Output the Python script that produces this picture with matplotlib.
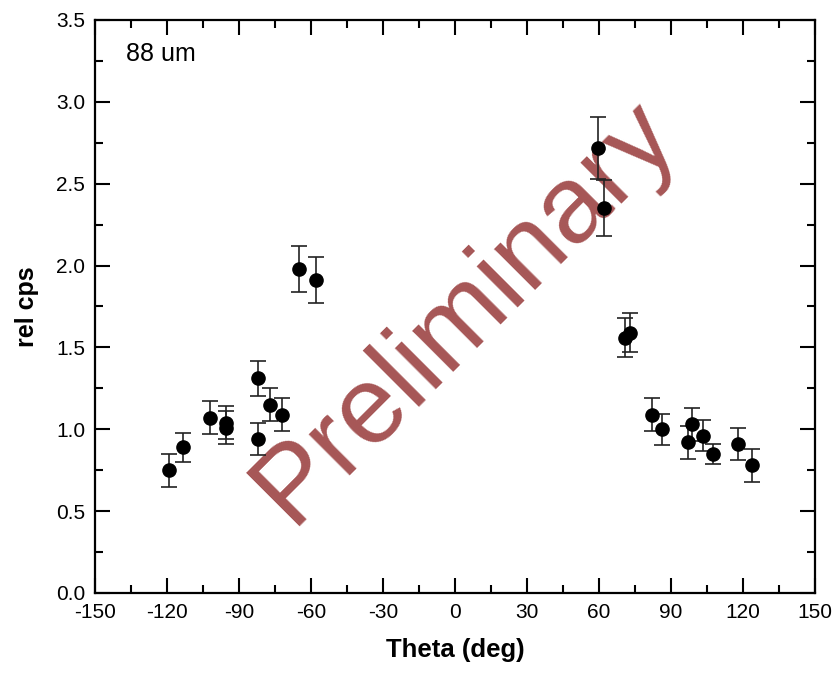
import matplotlib.pyplot as plt
from matplotlib.ticker import MultipleLocator

plt.rcParams['font.family'] = ['Liberation Sans', 'DejaVu Sans']

# angle (deg), relative count rate, error
theta = [-119, -113.5, -102, -95.5, -95.5, -82, -82, -77, -72, -65, -58,
         59.5, 62, 70.8, 72.8, 82, 86.5, 97, 99, 103.5, 107.5, 118, 124]
cps = [0.75, 0.89, 1.07, 1.04, 1.01, 1.31, 0.94, 1.15, 1.09, 1.98, 1.91,
       2.72, 2.35, 1.56, 1.59, 1.09, 1.00, 0.92, 1.03, 0.96, 0.85, 0.91, 0.78]
err = [0.10, 0.09, 0.10, 0.10, 0.10, 0.105, 0.10, 0.10, 0.10, 0.14, 0.14,
       0.19, 0.17, 0.12, 0.12, 0.10, 0.095, 0.10, 0.10, 0.095, 0.06, 0.10, 0.10]

fig = plt.figure(figsize=(8.35, 6.75), dpi=100)
ax = fig.add_axes([0.1138, 0.1215, 0.862, 0.849])

# watermark below the data
ax.text(12.5, 1.595, 'Preliminary', fontsize=79, color='#a65656',
        rotation=45, rotation_mode='anchor', ha='center', va='baseline',
        zorder=1)

ax.errorbar(theta, cps, yerr=err, fmt='o', color='black', ms=9.5,
            ecolor='#222222', elinewidth=1.2, capsize=5.5, capthick=1.2,
            zorder=3)

ax.set_xlim(-150, 150)
ax.set_ylim(0, 3.5)
ax.xaxis.set_major_locator(MultipleLocator(30))
ax.xaxis.set_minor_locator(MultipleLocator(15))
ax.yaxis.set_major_locator(MultipleLocator(0.5))
ax.yaxis.set_minor_locator(MultipleLocator(0.25))
ax.yaxis.set_major_formatter(lambda v, p: f'{v:.1f}')
ax.xaxis.set_major_formatter(lambda v, p: f'{v:.0f}')

ax.tick_params(which='both', direction='in', top=True, right=True,
               labelsize=15, width=1.5, pad=7)
ax.tick_params(which='major', length=11)
ax.tick_params(which='minor', length=6)
for s in ax.spines.values():
    s.set_linewidth(1.6)

ax.set_xlabel('Theta (deg)', fontsize=18.5, fontweight='bold', labelpad=12)
ax.set_ylabel('rel cps', fontsize=18, fontweight='bold', labelpad=12)
ax.text(-137, 3.25, '88 um', fontsize=18)

fig.savefig('out.png', dpi=100)
